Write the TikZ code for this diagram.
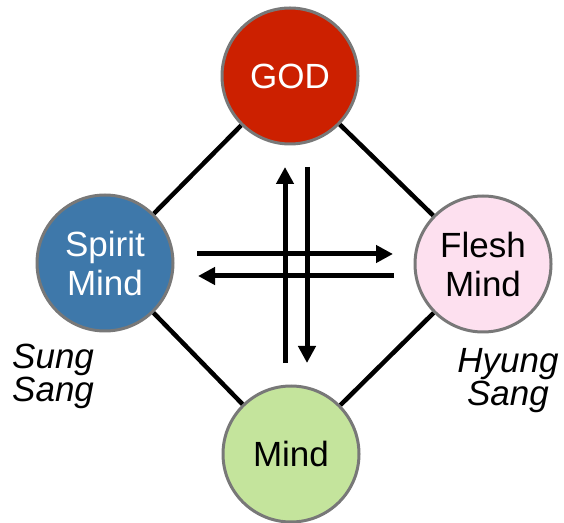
\documentclass[tikz,border=0pt]{standalone}
\usepackage{fontspec}
\setmainfont{Liberation Sans}
\usetikzlibrary{arrows.meta}
\definecolor{godred}{RGB}{204,32,0}
\definecolor{spiritblue}{RGB}{62,120,170}
\definecolor{fleshpink}{RGB}{253,224,239}
\definecolor{mindgreen}{RGB}{196,228,156}
\definecolor{rimgray}{RGB}{120,120,120}
\tikzset{
  orb/.style={circle, draw=rimgray, line width=3pt, minimum size=136pt, inner sep=0pt,
    align=center, font=\fontsize{35}{39}\selectfont},
  link/.style={line width=4.5pt, black},
  flow/.style={line width=5pt, black, -{Triangle[length=17pt,width=17pt]}},
  side/.style={inner sep=0pt, align=center, font=\fontsize{35}{33}\selectfont\itshape}
}
\begin{document}
\begin{tikzpicture}[x=1pt,y=1pt]
\useasboundingbox (0,0) rectangle (564,522);
\node[orb, fill=godred, text=white] (god) at (290,446) {GOD};
\node[orb, fill=spiritblue, text=white] (spirit) at (105,259) {Spirit\\Mind};
\node[orb, fill=fleshpink] (flesh) at (483,258) {Flesh\\Mind};
\node[orb, fill=mindgreen] (mind) at (291,68) {Mind};
\draw[link] (god) -- (spirit);
\draw[link] (god) -- (flesh);
\draw[link] (mind) -- (spirit);
\draw[link] (mind) -- (flesh);
\coordinate (upS) at (285,159); \coordinate (upE) at (285,355);
\coordinate (dnS) at (307,355); \coordinate (dnE) at (307,159);
\coordinate (rtS) at (197,268); \coordinate (rtE) at (393,268);
\coordinate (ltS) at (394,246); \coordinate (ltE) at (198,246);
\draw[flow] (upS) -- (upE);
\draw[flow] (dnS) -- (dnE);
\draw[flow] (rtS) -- (rtE);
\draw[flow] (ltS) -- (ltE);
\node[side, align=left, anchor=west] (sung) at (12,146) {Sung\\Sang};
\node[side] (hyung) at (508,141) {Hyung\\Sang};
\end{tikzpicture}
\end{document}
